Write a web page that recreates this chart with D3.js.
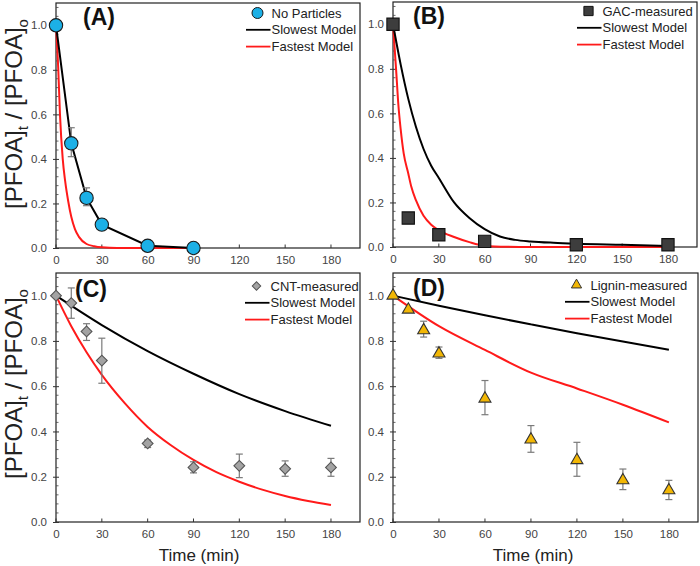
<!DOCTYPE html>
<html><head><meta charset="utf-8">
<script src="https://cdn.jsdelivr.net/npm/d3@7"></script>
<style>body{margin:0;background:#fff}svg{display:block;font-family:"Liberation Sans",Arial,sans-serif}</style>
</head><body><svg id="c" width="700" height="566"></svg>
<script>
// ---------- data ----------
const xTicks = [0, 30, 60, 90, 120, 150, 180];
const yTicks = [0.0, 0.2, 0.4, 0.6, 0.8, 1.0];
const seriesNames = ["Slowest Model", "Fastest Model"];

// (A) No Particles
const tA = [0, 10, 20, 30, 60, 90];
const measA = [1.0, 0.47, 0.225, 0.105, 0.01, 0.0];
const errLoA = [null, 0.41, 0.19, null, null, null];
const errHiA = [null, 0.54, 0.27, null, null, null];
const slowTA = [0, 10, 20, 30, 60, 90];
const slowA = [1.0, 0.47, 0.225, 0.105, 0.01, 0.0];
const fastTA = [0, 1.5, 2.6, 4.4, 6, 8, 10, 12.4, 15, 20, 25, 30, 40, 60, 90];
const fastA = [1.0, 0.8, 0.6, 0.4, 0.3, 0.21, 0.14, 0.085, 0.05, 0.018, 0.008, 0.003, 0.0, 0.0, 0.0];

// (B) GAC
const tB = [0, 10, 30, 60, 120, 180];
const measB = [1.0, 0.13, 0.055, 0.025, 0.01, 0.01];
const slowTB = [0, 5, 10, 15, 20, 25, 30, 40, 50, 60, 70, 80, 90, 105, 120, 150, 180];
const slowB = [1.0, 0.82, 0.665, 0.54, 0.44, 0.365, 0.31, 0.2, 0.13, 0.08, 0.047, 0.032, 0.025, 0.019, 0.015, 0.01, 0.005];
const fastTB = [0, 2, 3.5, 5, 7, 10, 12, 15, 20, 25, 30, 40, 50, 60, 75, 90, 120, 150, 180];
const fastB = [1.0, 0.8, 0.64, 0.53, 0.42, 0.33, 0.27, 0.21, 0.14, 0.1, 0.075, 0.045, 0.022, 0.006, 0.001, 0.0, 0.0, 0.0, 0.0];

// (C) CNT
const tC = [0, 10, 20, 30, 60, 90, 120, 150, 180];
const measC = [1.0, 0.967, 0.842, 0.713, 0.347, 0.241, 0.248, 0.235, 0.241];
const errLoC = [null, 0.90, 0.802, 0.613, 0.329, 0.217, 0.196, 0.202, 0.202];
const errHiC = [null, 1.034, 0.876, 0.812, 0.362, 0.266, 0.300, 0.270, 0.281];
const slowTC = [0, 30, 60, 90, 120, 150, 180];
const slowC = [1.0, 0.87, 0.755, 0.655, 0.565, 0.49, 0.425];
const fastTC = [0, 10, 20, 30, 45, 60, 75, 90, 105, 120, 135, 150, 165, 180];
const fastC = [1.0, 0.865, 0.75, 0.65, 0.525, 0.42, 0.34, 0.274, 0.22, 0.178, 0.143, 0.115, 0.093, 0.075];

// (D) Lignin
const tD = [0, 10, 20, 30, 60, 90, 120, 150, 180];
const measD = [1.0, 0.938, 0.847, 0.744, 0.545, 0.364, 0.273, 0.184, 0.140];
const errLoD = [null, null, 0.817, 0.723, 0.474, 0.308, 0.202, 0.143, 0.099];
const errHiD = [null, null, 0.887, 0.773, 0.625, 0.426, 0.352, 0.234, 0.184];
const slowTD = [0, 30, 60, 90, 120, 150, 180];
const slowD = [1.0, 0.955, 0.913, 0.873, 0.834, 0.797, 0.761];
const fastTD = [0, 30, 60, 90, 120, 150, 180];
const fastD = [1.0, 0.865, 0.76, 0.66, 0.59, 0.518, 0.44];

// ---------- drawing ----------
const svg = d3.select("#c");
const panels = [
  {label:"(A)", name:"No Particles", marker:"circle", fill:"#1cb0e6", stroke:"#1a1a1a",
   t:tA, m:measA, lo:errLoA, hi:errHiA, st:slowTA, s:slowA, ft:fastTA, f:fastA, slowLinear:true,
   L:56, R:360, T:3, B:248, lx:246, ly:13, lab:[83,25]},
  {label:"(B)", name:"GAC-measured", marker:"square", fill:"#3d3d3d", stroke:"#111",
   t:tB, m:measB, lo:null, hi:null, st:slowTB, s:slowB, ft:fastTB, f:fastB,
   L:393, R:697, T:2, B:247, lx:577, ly:11, lab:[413,24]},
  {label:"(C)", name:"CNT-measured", marker:"diamond", fill:"#a3a3a3", stroke:"#555",
   t:tC, m:measC, lo:errLoC, hi:errHiC, st:slowTC, s:slowC, ft:fastTC, f:fastC,
   L:56, R:360, T:273, B:522, lx:245, ly:286, lab:[75,297]},
  {label:"(D)", name:"Lignin-measured", marker:"triangle", fill:"#f2b705", stroke:"#333",
   t:tD, m:measD, lo:errLoD, hi:errHiD, st:slowTD, s:slowD, ft:fastTD, f:fastD,
   L:393, R:698, T:273, B:522, lx:565, ly:285, lab:[413,296]}
];

function symbolPath(type, size){
  const map = {circle:d3.symbolCircle, square:d3.symbolSquare, diamond:d3.symbolSquare, triangle:d3.symbolTriangle};
  return d3.symbol().type(map[type]).size(size)();
}
const rot = {circle:0, square:0, diamond:45, triangle:0};
const markerSize = {circle:140, square:150, diamond:58, triangle:62};
const legendSize = {circle:95, square:85, diamond:36, triangle:45};

panels.forEach(p => {
  const x = d3.scaleLinear().domain([0, 199]).range([p.L, p.R]);
  const y = d3.scaleLinear().domain([0, 1.1]).range([p.B, p.T]);
  const g = svg.append("g");

  // frame
  g.append("rect").attr("x", p.L).attr("y", p.T).attr("width", p.R - p.L).attr("height", p.B - p.T)
    .attr("fill", "none").attr("stroke", "#222").attr("stroke-width", 1.2);

  // y axis
  const ya = g.append("g").attr("transform", `translate(${p.L},0)`)
    .call(d3.axisLeft(y).tickValues(yTicks).tickFormat(d3.format(".1f")).tickSize(3).tickPadding(6));
  ya.select(".domain").remove();
  ya.selectAll("line").attr("stroke", "#333").attr("x2", -3).attr("x1", 3);
  ya.selectAll("text").attr("font-size", 11.5).attr("fill", "#444").attr("font-family", "Liberation Sans, Arial");
  const minors = d3.range(0, 1.1, 0.04).filter(v => Math.abs(Math.round(v / 0.2) * 0.2 - v) > 1e-6);
  g.selectAll(".mn").data(minors).join("line")
    .attr("x1", p.L).attr("x2", p.L + 2.5).attr("y1", d => y(d)).attr("y2", d => y(d))
    .attr("stroke", "#444").attr("stroke-width", 0.8);

  // x axis
  const xa = g.append("g").attr("transform", `translate(0,${p.B})`)
    .call(d3.axisBottom(x).tickValues(xTicks).tickFormat(d3.format("d")).tickSize(0).tickPadding(8));
  xa.select(".domain").remove();
  xa.selectAll("text").attr("font-size", 11.5).attr("fill", "#444").attr("font-family", "Liberation Sans, Arial");
  g.selectAll(".xt").data(xTicks).join("line")
    .attr("x1", d => x(d)).attr("x2", d => x(d)).attr("y1", p.B).attr("y2", p.B - 3.5)
    .attr("stroke", "#333");

  // model lines
  const lineS = d3.line().x(d => x(d[0])).y(d => y(d[1]))
    .curve(p.slowLinear ? d3.curveLinear : d3.curveMonotoneX);
  const lineF = d3.line().x(d => x(d[0])).y(d => y(d[1])).curve(d3.curveMonotoneX);
  g.append("path").datum(d3.zip(p.ft, p.f)).attr("d", lineF)
    .attr("fill", "none").attr("stroke", "#ff1a1a").attr("stroke-width", 2);
  g.append("path").datum(d3.zip(p.st, p.s)).attr("d", lineS)
    .attr("fill", "none").attr("stroke", "#000").attr("stroke-width", 2);

  // error bars
  if (p.lo) {
    const eb = p.t.map((t, i) => ({t, lo:p.lo[i], hi:p.hi[i]})).filter(d => d.lo != null);
    const eg = g.append("g").attr("stroke", "#7a7a7a").attr("stroke-width", 1.2);
    eg.selectAll(".v").data(eb).join("line")
      .attr("x1", d => x(d.t)).attr("x2", d => x(d.t)).attr("y1", d => y(d.lo)).attr("y2", d => y(d.hi));
    eg.selectAll(".c1").data(eb).join("line")
      .attr("x1", d => x(d.t) - 3.5).attr("x2", d => x(d.t) + 3.5).attr("y1", d => y(d.lo)).attr("y2", d => y(d.lo));
    eg.selectAll(".c2").data(eb).join("line")
      .attr("x1", d => x(d.t) - 3.5).attr("x2", d => x(d.t) + 3.5).attr("y1", d => y(d.hi)).attr("y2", d => y(d.hi));
  }

  // markers
  g.selectAll(".pt").data(d3.zip(p.t, p.m)).join("path")
    .attr("d", symbolPath(p.marker, markerSize[p.marker]))
    .attr("transform", d => `translate(${x(d[0])},${y(d[1])}) rotate(${rot[p.marker]})`)
    .attr("fill", p.fill).attr("stroke", p.stroke).attr("stroke-width", 1.1);

  // legend
  const lg = g.append("g").attr("font-size", 13).attr("fill", "#222").attr("font-family", "Liberation Sans, Arial");
  const tx = p.lx + 25.5;
  lg.append("path").attr("d", symbolPath(p.marker, legendSize[p.marker]))
    .attr("transform", `translate(${tx - 14},${p.ly}) rotate(${rot[p.marker]})`).attr("fill", p.fill).attr("stroke", p.stroke).attr("stroke-width", 1);
  lg.append("text").attr("x", tx).attr("y", p.ly + 4.6).text(p.name);
  const cols = ["#000", "#ff1a1a"];
  seriesNames.forEach((s, i) => {
    const yy = p.ly + 16.8 * (i + 1);
    lg.append("line").attr("x1", p.lx).attr("x2", tx - 1).attr("y1", yy).attr("y2", yy)
      .attr("stroke", cols[i]).attr("stroke-width", 1.8);
    lg.append("text").attr("x", tx).attr("y", yy + 4.6).text(s);
  });

  // panel label
  g.append("text").attr("x", p.lab[0]).attr("y", p.lab[1]).attr("font-size", 23).attr("font-weight", "bold")
    .attr("fill", "#111").text(p.label);
});

// y-axis titles
[114, 384].forEach(cy => {
  const t = svg.append("text").attr("transform", `translate(22,${cy}) rotate(-90)`)
    .attr("text-anchor", "middle").attr("font-size", 24).attr("fill", "#222");
  t.append("tspan").text("[PFOA]");
  t.append("tspan").attr("font-size", 15).attr("dy", 6).text("t");
  t.append("tspan").attr("dy", -6).text(" / [PFOA]");
  t.append("tspan").attr("font-size", 15).attr("dy", 6).text("o");
});

// x-axis titles
[[199, 561], [533, 561]].forEach(([cx, cy]) => {
  svg.append("text").attr("x", cx).attr("y", cy).attr("text-anchor", "middle")
    .attr("font-size", 17).attr("fill", "#222").text("Time (min)");
});
</script></body></html>
